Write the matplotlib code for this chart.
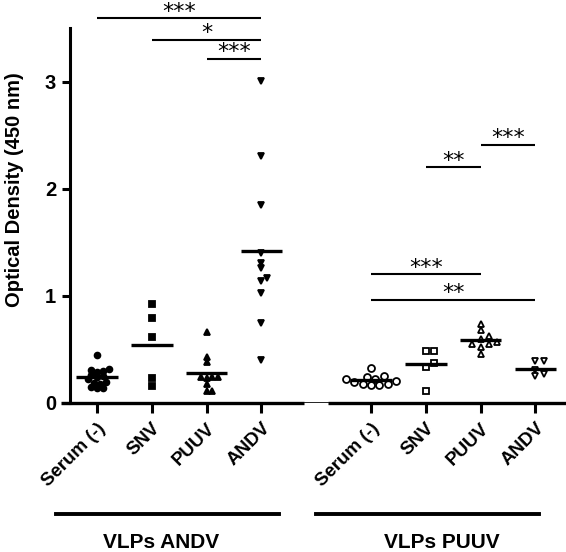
import numpy as np
import matplotlib
matplotlib.use("Agg")
import matplotlib.pyplot as plt

plt.rcParams["font.family"] = ["Liberation Sans", "DejaVu Sans"]

# optical density values
groups = ["VLPs ANDV", "VLPs PUUV"]
sera = ["Serum (-)", "SNV", "PUUV", "ANDV"]

andv_serum = [0.45, 0.32, 0.31, 0.30, 0.29, 0.26, 0.25, 0.24, 0.22, 0.20, 0.19, 0.18, 0.15, 0.14, 0.14]
andv_snv = [0.92, 0.79, 0.62, 0.23, 0.16]
andv_puuv = [0.66, 0.43, 0.38, 0.24, 0.24, 0.24, 0.23, 0.18, 0.11, 0.11]
andv_andv = [3.01, 2.31, 1.85, 1.40, 1.31, 1.26, 1.17, 1.14, 1.03, 0.75, 0.40]

puuv_serum = [0.33, 0.25, 0.24, 0.22, 0.22, 0.21, 0.20, 0.18, 0.18, 0.17, 0.17]
puuv_snv = [0.49, 0.49, 0.37, 0.34, 0.11]
puuv_puuv = [0.74, 0.68, 0.63, 0.60, 0.57, 0.55, 0.55, 0.52, 0.46]
puuv_andv = [0.39, 0.39, 0.31, 0.27, 0.25]

# significance brackets: (from, to, height, label)
sig_andv = [(1, 4, 3.59, "***"), (2, 4, 3.39, "*"), (3, 4, 3.21, "***")]
sig_puuv = [(7, 8, 2.20, "**"), (8, 9, 2.41, "***"), (6, 8, 1.20, "***"), (6, 9, 0.965, "**")]

W, H = 566, 552
XMIN, XMAX = 0.343, 9.558
YMAX = 3.5
PX_X = 505 / (XMAX - XMIN)
PX_Y = 375 / YMAX


def swarm(vals, diam, gap=0.75, step=0.5):
    # simple beeswarm in pixel space, points may overlap a little
    vals = np.asarray(vals, float)
    ys = vals * PX_Y
    order = np.argsort(ys)
    placed = []
    offs = np.zeros(len(vals))
    for i in order:
        for k in range(0, 40):
            dx = (k + 1) // 2 * diam * step * (1 if k % 2 else -1) if k else 0.0
            ok = all((dx - px) ** 2 + (ys[i] - py) ** 2 >= (diam * gap) ** 2 for px, py in placed)
            if ok:
                break
        placed.append((dx, ys[i]))
        offs[i] = dx
    return offs / PX_X


fig = plt.figure(figsize=(W / 100, H / 100), dpi=100)
ax = fig.add_axes([61 / W, 1 - 403 / H, 505 / W, 375 / H])
ax.set_xlim(XMIN, XMAX)
ax.set_ylim(0, YMAX)

series = [
    (1, andv_serum, "o", "k"), (2, andv_snv, "s", "k"), (3, andv_puuv, "^", "k"), (4, andv_andv, "v", "k"),
    (6, puuv_serum, "o", "w"), (7, puuv_snv, "s", "w"), (8, puuv_puuv, "^", "w"), (9, puuv_andv, "v", "w"),
]
for x, vals, mk, fc in series:
    if fc == "k":
        ms = 4.2
        offs = swarm(vals, ms * 1.39, gap=0.85, step=0.5)
    else:
        ms = 5.0
        offs = swarm(vals, ms * 1.39, gap=0.9, step=0.6)
    ax.plot(x + offs, vals, linestyle="none", marker=mk, ms=ms, mfc=fc, mec="k",
            mew=1.3, clip_on=False, zorder=3)
    ax.plot([x - 0.38, x + 0.38], [np.mean(vals)] * 2, color="k", lw=2.4,
            solid_capstyle="butt", zorder=4)

for x1, x2, y, lab in sig_andv + sig_puuv:
    ax.plot([x1, x2], [y, y], color="k", lw=1.5, clip_on=False, solid_capstyle="butt")
    ax.annotate(lab, ((x1 + x2) / 2, y), xytext=(0, 0.5), textcoords="offset points",
                ha="center", va="baseline", fontsize=16, family="DejaVu Sans",
                annotation_clip=False)

# axes
for s in ["top", "right", "bottom"]:
    ax.spines[s].set_visible(False)
ax.spines["left"].set_position(("data", 1 + (70 - 97) / PX_X))
ax.spines["left"].set_linewidth(2.2)
ax.spines["left"].set_bounds(0, YMAX)
ax.plot([XMIN, 4.77], [0, 0], color="k", lw=2.4, clip_on=False, solid_capstyle="butt")
ax.plot([5.22, XMAX], [0, 0], color="k", lw=2.4, clip_on=False, solid_capstyle="butt")
ax.plot([4.77, 5.22], [0.012, 0.012], color="k", lw=0.6, clip_on=False)

ax.set_yticks([0, 1, 2, 3])
ax.set_yticklabels(["0", "1", "2", "3"], fontsize=14.5, fontweight="bold")
ax.tick_params(axis="y", direction="out", length=6, width=2.2, pad=4)
ax.set_xticks([1, 2, 3, 4, 6, 7, 8, 9])
ax.set_xticklabels(sera + sera, rotation=45, ha="right", rotation_mode="anchor",
                   fontsize=13.5, fontweight="bold")
ax.tick_params(axis="x", direction="out", length=7, width=2.2, pad=5)

fig.text(15 / W, 1 - 190 / H, "Optical Density (450 nm)", rotation=90, ha="center",
         va="center", fontsize=14.5, fontweight="bold")

# group brackets
for (a, b), cx, name in zip([(56, 279), (316, 539)], [161, 442], groups):
    fig.add_artist(plt.Line2D([a / W, b / W], [1 - 514 / H] * 2, color="k", lw=2.8))
    fig.text(cx / W, 1 - 542 / H, name, ha="center", va="center", fontsize=15, fontweight="bold")

fig.savefig("out.png", dpi=100)
